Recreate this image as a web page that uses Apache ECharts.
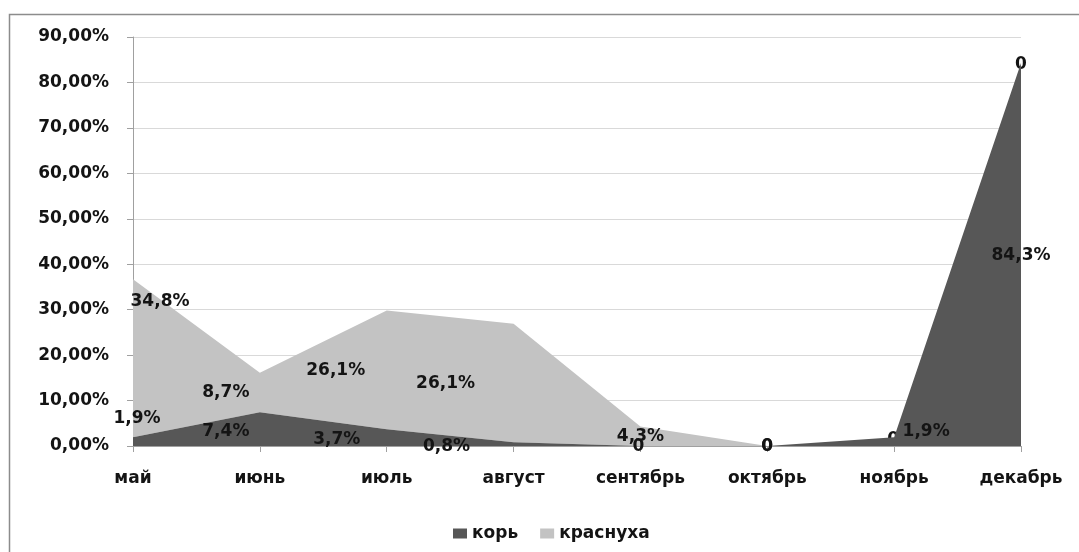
<!DOCTYPE html>
<html>
<head>
<meta charset="utf-8">
<script src="https://cdn.jsdelivr.net/npm/echarts@6/dist/echarts.min.js"></script>
<style>html,body{margin:0;padding:0;background:#fff;}#c{width:1079px;height:552px;}</style>
</head>
<body>
<div id="c"></div>
<script>
var categories = ['май','июнь','июль','август','сентябрь','октябрь','ноябрь','декабрь'];
var korValues = [1.9, 7.4, 3.7, 0.8, 0, 0, 1.9, 84.3];
var krasnuhaValues = [34.8, 8.7, 26.1, 26.1, 4.3, 0, 0, 0];
var yTicks = [0,10,20,30,40,50,60,70,80,90];
var seriesNames = ['корь','краснуха'];

// label placement (style), matching the reference
var korLabelOffsets = [[4,-19],[-34,19],[-50,10],[-67,4],[-2,1],[0,1],[32,-6],[0,193]];
var krasLabelOffsets = [[27,22],[-34,20],[-51,60],[-68,60],[0,10],[0,1],[-1,2],[0,2]];

function fmt(v){ return v === 0 ? '0' : v.toFixed(1).replace('.', ',') + '%'; }
function buildData(vals, offs){
  return vals.map(function(v,i){
    return {value: v, label: {offset: offs[i]}};
  });
}
var FONT = 'DejaVu Sans';
var TXT = '#141414';
var chart = echarts.init(document.getElementById('c'));
chart.setOption({
  animation: false,
  backgroundColor: '#fff',
  graphic: [{
    type: 'rect', silent: true, z: -1,
    shape: {x: 9.5, y: 14.5, width: 1100, height: 560},
    style: {fill: 'none', stroke: '#8c8c8c', lineWidth: 1.5}
  }],
  grid: {left: 133, right: 58, top: 37, bottom: 106},
  legend: {
    top: 520, left: 448,
    itemWidth: 14, itemHeight: 10, itemGap: 22,
    icon: 'rect',
    textStyle: {fontFamily: FONT, fontWeight: 'bold', fontSize: 17, color: TXT},
    data: seriesNames
  },
  xAxis: {
    type: 'category', data: categories, boundaryGap: false,
    axisLine: {lineStyle: {color: '#a0a0a0', width: 1}},
    axisTick: {show: true, alignWithLabel: true, length: 6, lineStyle: {color: '#a0a0a0'}},
    axisLabel: {margin: 24, fontFamily: FONT, fontWeight: 'bold', fontSize: 17, color: TXT, interval: 0},
    splitLine: {show: false}
  },
  yAxis: {
    type: 'value', min: yTicks[0], max: yTicks[yTicks.length-1], interval: 10,
    axisLine: {show: true, lineStyle: {color: '#a0a0a0', width: 1}},
    axisTick: {show: true, length: 6, lineStyle: {color: '#a0a0a0'}},
    axisLabel: {margin: 24, fontFamily: FONT, fontWeight: 'bold', fontSize: 17, color: TXT,
      formatter: function(v){ return v.toFixed(2).replace('.', ',') + '%'; }},
    splitLine: {lineStyle: {color: '#d9d9d9', width: 1}}
  },
  series: [
    {
      name: seriesNames[0], type: 'line', stack: 'total',
      data: buildData(korValues, korLabelOffsets),
      symbol: 'circle', symbolSize: 0, showSymbol: true,
      lineStyle: {width: 0}, itemStyle: {color: '#575757'},
      areaStyle: {color: '#575757', opacity: 1},
      label: {show: true, position: 'inside', formatter: function(p){ return fmt(p.value); },
        fontFamily: FONT, fontWeight: 'bold', fontSize: 17, color: TXT},
      z: 3
    },
    {
      name: seriesNames[1], type: 'line', stack: 'total',
      data: buildData(krasnuhaValues, krasLabelOffsets),
      symbol: 'circle', symbolSize: 0, showSymbol: true,
      lineStyle: {width: 0}, itemStyle: {color: '#c3c3c3'},
      areaStyle: {color: '#c3c3c3', opacity: 1},
      label: {show: true, position: 'inside', formatter: function(p){ return fmt(p.value); },
        fontFamily: FONT, fontWeight: 'bold', fontSize: 17, color: TXT},
      z: 2
    }
  ]
});
</script>
</body>
</html>
